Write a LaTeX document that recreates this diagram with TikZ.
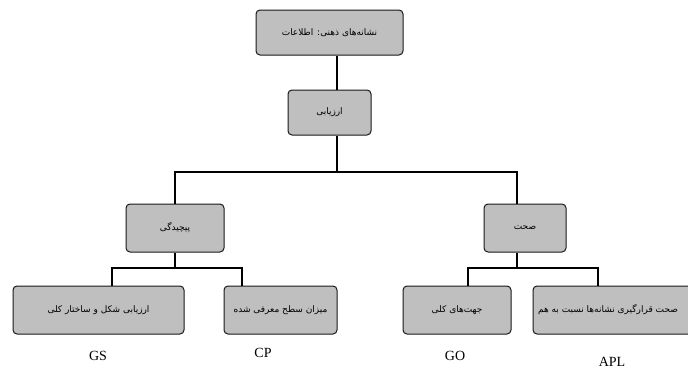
\documentclass[tikz,border=0pt]{standalone}
\usepackage{fontspec}
\setmainfont{Liberation Serif}
\newfontfamily\arabicfont[Script=Arabic]{DejaVu Sans}
\TeXXeTstate=1
\begin{document}
\begin{tikzpicture}[x=1pt,y=-1pt,
  boxnode/.style={draw=black!90,line width=1pt,fill=black!25,rounded corners=4pt,
    inner sep=0pt,font=\arabicfont\fontsize{9}{10}\selectfont},
  conn/.style={line width=1.6pt,black},
  codelabel/.style={font=\fontsize{14}{16}\selectfont,inner sep=0pt}]
\useasboundingbox (0,0) rectangle (688,375);
\clip (0,0) rectangle (688,375);
\node[boxnode,minimum width=147pt,minimum height=45pt] (top) at (329.5,32.5) {\beginR نشانه‌های ذهنی: اطلاعات\endR};
\node[boxnode,minimum width=83pt,minimum height=45pt] (eval) at (329.5,112.5) {\beginR ارزیابی\endR};
\node[boxnode,minimum width=98pt,minimum height=48pt] (comp) at (175,228) {\beginR پیچیدگی\endR};
\node[boxnode,minimum width=82pt,minimum height=48pt] (acc) at (525,228) {\beginR صحت\endR};
\node[boxnode,minimum width=171pt,minimum height=48pt] (gs) at (98.5,310) {\beginR ارزیابی شکل و ساختار کلی\endR};
\node[boxnode,minimum width=113pt,minimum height=48pt] (cp) at (280.5,310) {\beginR میزان سطح معرفی شده\endR};
\node[boxnode,minimum width=108pt,minimum height=48pt] (go) at (457,310) {\beginR جهت‌های کلی\endR};
\node[boxnode,minimum width=180pt,minimum height=48pt] (apl) at (623,310) {\beginR صحت قرارگیری نشانه‌ها نسبت به هم\endR\hspace*{30pt}};
\coordinate (c0) at (337,0);
\coordinate (cacc) at (517,0);
\coordinate (cgs) at (112,0);
\coordinate (ccp) at (242,0);
\coordinate (cgo) at (468,0);
\coordinate (capl) at (598,0);
\coordinate (bus1) at (337,172);
\coordinate (bus2) at (0,268);
\draw[conn] (top.south -| c0) -- (eval.north -| c0);
\draw[conn] (eval.south -| c0) -- (bus1);
\draw[conn] (comp.north) |- (bus1) -| (acc.north -| cacc);
\draw[conn] (comp.south) -- (comp.south |- bus2);
\draw[conn] (gs.north -| cgs) |- (bus2 -| ccp) -- (cp.north -| ccp);
\draw[conn] (acc.south -| cacc) -- (bus2 -| cacc);
\draw[conn] (go.north -| cgo) |- (bus2 -| capl) -- (apl.north -| capl);
\node[codelabel] (lgs) at (98,356) {GS};
\node[codelabel] (lcp) at (263,353) {CP};
\node[codelabel] (lgo) at (455,356) {GO};
\node[codelabel] (lapl) at (612,362) {APL};
\end{tikzpicture}
\end{document}
